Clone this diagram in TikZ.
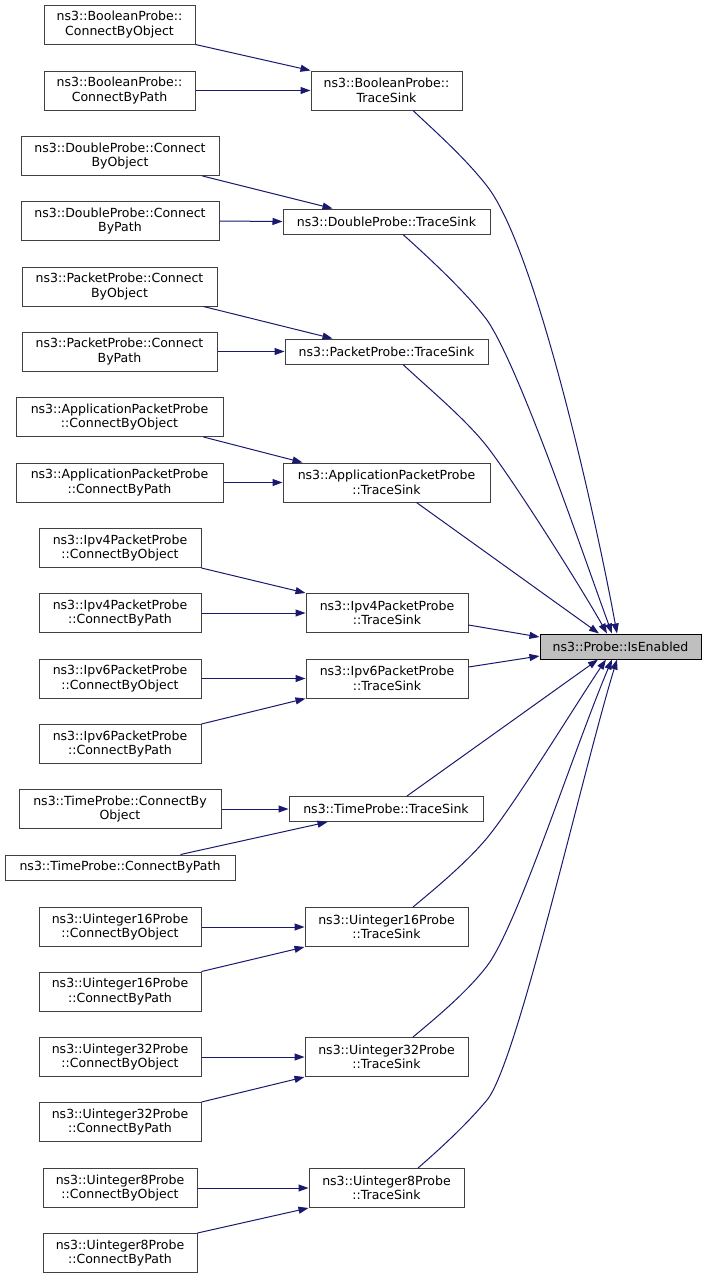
\documentclass[tikz,border=0pt]{standalone}
\usepackage{fontspec}
\setmainfont{DejaVu Sans}
\usetikzlibrary{arrows.meta,calc}
\definecolor{edgecol}{HTML}{191970}
\definecolor{boxline}{HTML}{404040}
\definecolor{rootfill}{HTML}{BFBFBF}
\begin{document}
\begin{tikzpicture}[x=0.75pt,y=-0.75pt,
  box/.style={draw=boxline, line width=0.75pt, fill=white, inner sep=0pt,
    align=center, font=\fontsize{9.4pt}{10.9pt}\selectfont},
  wh/.style 2 args={minimum width=#1*0.75pt, minimum height=#2*0.75pt},
  rootbox/.style={box, draw=black, fill=rootfill},
  e/.style={draw=edgecol, line width=0.75pt, -{Triangle[length=7.5pt,width=5.25pt]}}]
\fill[white] (0,0) rectangle (707,1279);
\useasboundingbox (0,0) rectangle (707,1279);

% left column
\node[box,wh={151}{39}] (bco) at (119.5,24.5) {ns3::BooleanProbe::\\ConnectByObject};
\node[box,wh={151}{39}] (bcp) at (119.5,90.5) {ns3::BooleanProbe::\\ConnectByPath};
\node[box,wh={198}{39}] (dco) at (120,156) {ns3::DoubleProbe::Connect\\ByObject};
\node[box,wh={198}{39}] (dcp) at (120,221) {ns3::DoubleProbe::Connect\\ByPath};
\node[box,wh={195}{39}] (pco) at (119.5,286.5) {ns3::PacketProbe::Connect\\ByObject};
\node[box,wh={195}{39}] (pcp) at (119.5,351.5) {ns3::PacketProbe::Connect\\ByPath};
\node[box,wh={207}{39}] (aco) at (119.5,417) {ns3::ApplicationPacketProbe\\::ConnectByObject};
\node[box,wh={207}{39}] (acp) at (119.5,482.5) {ns3::ApplicationPacketProbe\\::ConnectByPath};
\node[box,wh={162}{39}] (i4co) at (120,548) {ns3::Ipv4PacketProbe\\::ConnectByObject};
\node[box,wh={162}{39}] (i4cp) at (120,613) {ns3::Ipv4PacketProbe\\::ConnectByPath};
\node[box,wh={162}{39}] (i6co) at (120,678.5) {ns3::Ipv6PacketProbe\\::ConnectByObject};
\node[box,wh={162}{39}] (i6cp) at (120,744) {ns3::Ipv6PacketProbe\\::ConnectByPath};
\node[box,wh={202}{39}] (tco) at (120,809) {ns3::TimeProbe::ConnectBy\\Object};
\node[box,wh={230}{25}] (tcp) at (120,867.5) {ns3::TimeProbe::ConnectByPath};
\node[box,wh={162}{39}] (u16co) at (120,927) {ns3::Uinteger16Probe\\::ConnectByObject};
\node[box,wh={162}{39}] (u16cp) at (120,991.5) {ns3::Uinteger16Probe\\::ConnectByPath};
\node[box,wh={162}{39}] (u32co) at (120,1057) {ns3::Uinteger32Probe\\::ConnectByObject};
\node[box,wh={162}{39}] (u32cp) at (120,1122) {ns3::Uinteger32Probe\\::ConnectByPath};
\node[box,wh={154}{39}] (u8co) at (120,1188) {ns3::Uinteger8Probe\\::ConnectByObject};
\node[box,wh={154}{39}] (u8cp) at (120,1253) {ns3::Uinteger8Probe\\::ConnectByPath};

% middle column
\node[box,wh={151}{39}] (bts) at (386.5,90.5) {ns3::BooleanProbe::\\TraceSink};
\node[box,wh={207}{25}] (dts) at (386.5,221.5) {ns3::DoubleProbe::TraceSink};
\node[box,wh={203}{25}] (pts) at (386.5,351.5) {ns3::PacketProbe::TraceSink};
\node[box,wh={207}{39}] (ats) at (386.5,482.5) {ns3::ApplicationPacketProbe\\::TraceSink};
\node[box,wh={162}{39}] (i4ts) at (387,613) {ns3::Ipv4PacketProbe\\::TraceSink};
\node[box,wh={162}{39}] (i6ts) at (387,678.5) {ns3::Ipv6PacketProbe\\::TraceSink};
\node[box,wh={194}{25}] (tts) at (386,809) {ns3::TimeProbe::TraceSink};
\node[box,wh={163}{39}] (u16ts) at (386.5,927) {ns3::Uinteger16Probe\\::TraceSink};
\node[box,wh={163}{39}] (u32ts) at (386.5,1057) {ns3::Uinteger32Probe\\::TraceSink};
\node[box,wh={155}{39}] (u8ts) at (386.5,1188) {ns3::Uinteger8Probe\\::TraceSink};

% root
\node[rootbox,wh={161}{25}] (isE) at (620.5,646.5) {ns3::Probe::IsEnabled};

% left edges
\draw[e] (bco.south east) -- (bts.north west);
\draw[e] (bcp.east) -- (bts.west);
\draw[e] ($(dco.south east)+(-17,0)$) -- ($(dts.north west)+(50,0)$);
\draw[e] (dcp.east) -- (dts.west);
\draw[e] ($(pco.south east)+(-14,0)$) -- ($(pts.north west)+(48,0)$);
\draw[e] (pcp.east) -- (pts.west);
\draw[e] ($(aco.south east)+(-20,0)$) -- ($(ats.north west)+(20,0)$);
\draw[e] (acp.east) -- (ats.west);
\draw[e] (i4co.south east) -- (i4ts.north west);
\draw[e] (i4cp.east) -- (i4ts.west);
\draw[e] (i6co.east) -- (i6ts.west);
\draw[e] (i6cp.north east) -- (i6ts.south west);
\draw[e] (tco.east) -- (tts.west);
\draw[e] ($(tcp.north east)+(-55,0)$) -- ($(tts.south west)+(39,0)$);
\draw[e] (u16co.east) -- (u16ts.west);
\draw[e] (u16cp.north east) -- (u16ts.south west);
\draw[e] (u32co.east) -- (u32ts.west);
\draw[e] (u32cp.north east) -- (u32ts.south west);
\draw[e] (u8co.east) -- (u8ts.west);
\draw[e] (u8cp.north east) -- (u8ts.south west);

% edges to root
\draw[e] ($(bts.south)+(26.5,0)$) .. controls (438,134) and (465,158) .. (487,186)
  .. controls (537,250) and (597,524) .. ($(isE.north)+(-3.5,0)$);
\draw[e] ($(dts.south)+(16.5,0)$) .. controls (428,257) and (466,292) .. (487,320)
  .. controls (520,368) and (585,560) .. ($(isE.north)+(-8.5,0)$);
\draw[e] ($(pts.south)+(16.5,0)$) .. controls (428,388) and (467,420) .. (489,449)
  .. controls (519,489) and (582,589) .. ($(isE.north)+(-13.5,0)$);
\draw[e] ($(ats.south)+(30,0)$) -- ($(isE.north)+(-21.5,0)$);
\draw[e] ($(i4ts.east)+(0,12)$) -- ($(isE.west)+(0,-9.5)$);
\draw[e] ($(i6ts.east)+(0,-11.5)$) -- ($(isE.west)+(0,9.5)$);
\draw[e] ($(tts.north)+(21,0)$) -- ($(isE.south)+(-22.5,0)$);
\draw[e] ($(u16ts.north)+(26.5,0)$) .. controls (436,888) and (467,862) .. (487,838)
  .. controls (515,804) and (578,701) .. ($(isE.south)+(-14.5,0)$);
\draw[e] ($(u32ts.north)+(26.5,0)$) .. controls (437,1017) and (467,992) .. (487,966)
  .. controls (517,927) and (574,749) .. ($(isE.south)+(-8.5,0)$);
\draw[e] ($(u8ts.north)+(31.5,0)$) .. controls (441,1148) and (467,1124) .. (487,1100)
  .. controls (517,1064) and (582,774) .. ($(isE.south)+(-3.5,0)$);
\end{tikzpicture}
\end{document}
